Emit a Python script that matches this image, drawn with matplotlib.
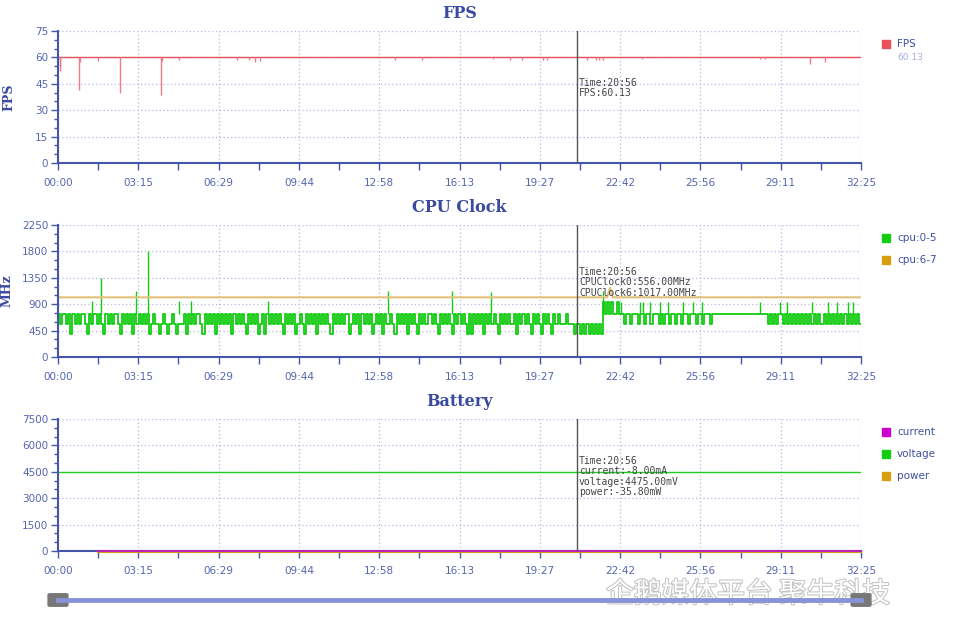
import numpy as np
import matplotlib
matplotlib.use('Agg')
from matplotlib import pyplot as plt
from matplotlib.patches import FancyBboxPatch, Rectangle
import matplotlib.patheffects as pe

# ---- data (time in seconds, run is 32:25 long) ----
total_time = 1945
cursor_time = 1256
time_labels = ['00:00', '03:15', '06:29', '09:44', '12:58', '16:13',
               '19:27', '22:42', '25:56', '29:11', '32:25']

# FPS: steady 60 with short drops
fps_base_times = [0, 1945]
fps_base_values = [60, 60]
fps_dip_times = [4, 6, 50, 54, 98, 149, 249, 251, 293, 434, 463, 476, 489,
                 816, 882, 1054, 1095, 1124, 1175, 1184, 1281, 1303, 1311,
                 1319, 1415, 1700, 1712, 1821, 1859]
fps_dip_values = [55, 52, 41.5, 57.5, 58, 39.5, 38.5, 58, 58.5, 58.5, 58.7,
                  57.5, 58, 58.5, 58.5, 59, 58.5, 58.7, 58.5, 58.5, 58.7,
                  58.5, 58.5, 58.7, 59, 59, 59, 56, 57.5]

# CPU clock cluster 0-5, one sample every 5 s (MHz levels)
H, M, L, P = 741, 556, 384, 940
cpu05_step = 5
cpu05_values = [
    H, M, H, H, M, H, L, H, M, H, M, H, H, M, L, H, M, H, H, M,
    H, M, L, H, M, H, M, H, H, M, L, H, M, H, M, H, L, H, M, H,
    M, H, M, H, L, M, H, M, M, L, M, H, M, L, M, H, M, L, M, M,
    M, H, L, H, M, H, M, H, H, M, L, H, M, H, M, H, L, H, M, H,
    M, H, M, H, L, H, M, H, M, H, M, L, H, M, H, M, H, L, M, H,
    L, H, M, H, M, H, M, H, M, L, H, M, H, M, H, L, M, H, M, L,
    H, M, H, M, H, L, H, M, H, M, H, M, L, H, M, H, M, H, M, H,
    H, L, M, H, M, H, L, H, M, H, M, H, L, M, H, M, H, L, H, M,
    M, H, M, L, H, M, H, M, H, L, H, M, H, M, L, H, M, H, M, H,
    H, M, H, M, L, H, M, H, M, H, M, L, H, M, H, M, H, M, L, H,
    L, H, M, H, M, H, L, H, M, H, M, H, M, L, H, M, H, M, H, M,
    M, H, L, H, M, H, M, H, M, L, H, M, H, M, L, H, M, H, M, L,
    H, M, H, M, M, M, H, M, M, M, L, M, M, L, M, L, M, L, M, L,
    M, L, M, L, P, H, P, H, P, H, H, P, H, H, M, H, H, M, H, H,
    H, M, H, H, M, H, H, M, H, H, H, M, H, M, H, H, M, H, H, M,
    H, H, M, H, H, M, H, H, H, M, H, H, M, H, H, H, M, H, H, H,
    H, H, H, H, H, H, H, H, H, H, H, H, H, H, H, H, H, H, H, H,
    H, H, H, H, M, H, M, H, M, H, H, M, H, M, H, M, H, M, H, M,
    H, M, H, M, H, M, H, M, H, M, M, H, M, H, M, H, M, H, M, H,
    M, H, M, H, M, H, M, H, M,
]
cpu05_spike_times = [83, 103, 189, 219, 293, 321, 509, 799, 955, 1049, 1321,
                     1364, 1410, 1418, 1434, 1458, 1478, 1515, 1539, 1559,
                     1700, 1749, 1765, 1827, 1866, 1886, 1914, 1926]
cpu05_spike_values = [960, 1350, 1130, 1800, 960, 960, 960, 1130, 1130, 1100,
                      1124, 942, 942, 942, 942, 942, 942, 942, 942, 942,
                      942, 942, 942, 942, 942, 942, 942, 942]
cpu05_spike_base = 741

# CPU clock cluster 6-7
cpu67_times = [0, 1330, 1337, 1344, 1945]
cpu67_values = [1017, 1017, 1180, 1017, 1017]

# Battery
voltage_times = [0, 1945]
voltage_values = [4475, 4475]
current_times = [98, 1945]
current_values = [-8, -8]
power_times = [98, 1945]
power_values = [-35.8, -35.8]

# ---- style ----
axis_color = '#4455aa'
label_color = '#5565b0'
title_color = '#3a4aa0'
grid_color = '#b4b9e6'

fig = plt.figure(figsize=(9.6, 6.18), dpi=100)
W, Hf = 960.0, 618.0


def make_axes(top_px, ymax, ymajor, yminor):
    ax = fig.add_axes([58 / W, 1 - (top_px + 132) / Hf, 803 / W, 132 / Hf])
    ax.set_xlim(0, total_time)
    ax.set_ylim(0, ymax)
    ax.set_xticks(np.linspace(0, total_time, 11))
    ax.set_xticklabels(time_labels)
    ax.set_xticks(np.linspace(0, total_time, 21), minor=True)
    ax.set_yticks(np.arange(0, ymax + 1, ymajor))
    ax.set_yticks(np.arange(0, ymax + 1, yminor), minor=True)
    for s in ['top', 'right']:
        ax.spines[s].set_visible(False)
    for s in ['left', 'bottom']:
        ax.spines[s].set_color(axis_color)
        ax.spines[s].set_linewidth(1.5)
    ax.tick_params(which='both', colors=axis_color, labelcolor=label_color,
                   labelsize=7.5, width=1)
    ax.tick_params(axis='x', which='both', length=5, pad=6)
    ax.tick_params(axis='y', which='major', length=5, pad=2)
    ax.tick_params(axis='y', which='minor', length=3)
    ax.grid(True, which='major', color=grid_color, linestyle=(0, (1, 2)),
            linewidth=0.9)
    ax.set_axisbelow(True)
    ax.axvline(cursor_time, color='#555555', linewidth=1, zorder=4)
    return ax


def legend_entry(y_px, color, text):
    fig.add_artist(Rectangle((882 / W, 1 - (y_px + 4) / Hf), 8 / W, 8 / Hf,
                             transform=fig.transFigure, color=color))
    fig.text(897 / W, 1 - y_px / Hf, text, color='#4050a0', fontsize=7.5,
             va='center', ha='left')


def tooltip(y_px, text):
    fig.text(579 / W, 1 - y_px / Hf, text, color='#444444', fontsize=7,
             family='DejaVu Sans Mono', va='top', ha='left', linespacing=1.05)


# FPS
ax1 = make_axes(31, 75, 15, 5)
ax1.plot(fps_base_times, fps_base_values, color='#e8505a', linewidth=1)
ax1.vlines(fps_dip_times, fps_dip_values, 60, color='#f07a88', linewidth=1)
ax1.set_title('FPS', color=title_color, fontsize=11.5, fontweight='bold',
              family='DejaVu Serif', pad=9)
ax1.set_ylabel('FPS', color=title_color, fontsize=9, fontweight='bold',
               family='DejaVu Serif', labelpad=14)
legend_entry(44, '#e8505a', 'FPS')
fig.text(897 / W, 1 - 58 / Hf, '60.13', color='#a8b0e0', fontsize=6.5,
         va='center', ha='left')
tooltip(78, 'Time:20:56\nFPS:60.13')

# CPU Clock
ax2 = make_axes(225, 2250, 450, 150)
cpu05_times = np.arange(len(cpu05_values)) * cpu05_step
ax2.plot(np.append(cpu05_times, total_time),
         np.append(cpu05_values, cpu05_values[-1]),
         drawstyle='steps-post', color='#11cc11', linewidth=1.3)
ax2.vlines(cpu05_spike_times, cpu05_spike_base, cpu05_spike_values,
           color='#11cc11', linewidth=1)
ax2.plot(cpu67_times, cpu67_values, color='#e2c07a', linewidth=1.5)
ax2.set_title('CPU Clock', color=title_color, fontsize=11.5, fontweight='bold',
              family='DejaVu Serif', pad=9)
ax2.set_ylabel('MHz', color=title_color, fontsize=9, fontweight='bold',
               family='DejaVu Serif', labelpad=6)
legend_entry(238, '#11cc11', 'cpu:0-5')
legend_entry(260, '#d4a010', 'cpu:6-7')
tooltip(267, 'Time:20:56\nCPUClock0:556.00MHz\nCPUClock6:1017.00MHz')

# Battery
ax3 = make_axes(419, 7500, 1500, 500)
ax3.plot(voltage_times, voltage_values, color='#22cc22', linewidth=1)
ax3.plot(power_times, power_values, color='#d4a010', linewidth=1.5,
         zorder=3, clip_on=False)
ax3.plot(current_times, current_values, color='#bb22bb', linewidth=1.5,
         zorder=3, clip_on=False)
ax3.set_title('Battery', color=title_color, fontsize=11.5, fontweight='bold',
              family='DejaVu Serif', pad=9)
legend_entry(432, '#cc00cc', 'current')
legend_entry(454, '#11cc11', 'voltage')
legend_entry(476, '#d4a010', 'power')
tooltip(456, 'Time:20:56\ncurrent:-8.00mA\nvoltage:4475.00mV\npower:-35.80mW')

# watermark (kept just below the tick labels)
fig.text(606 / W, 1 - 594 / Hf, '企鹅媒体平台 聚牛科技', fontsize=20,
         family=['Noto Sans CJK SC', 'DejaVu Sans'], color='white',
         va='center', ha='left', zorder=0,
         path_effects=[pe.withStroke(linewidth=1.5, foreground='#c4c4c4')])

# zoom slider under the charts
fig.add_artist(plt.Line2D([58 / W, 861 / W], [1 - 600 / Hf, 1 - 600 / Hf],
                          transform=fig.transFigure, color='#8892d8',
                          linewidth=3.5))
for cx in [58, 861]:
    fig.add_artist(FancyBboxPatch(((cx - 8) / W, 1 - 605 / Hf), 16 / W, 10 / Hf,
                                  boxstyle='round,pad=0.002',
                                  transform=fig.transFigure,
                                  color='#777777'))

fig.savefig('out.png', dpi=100)
